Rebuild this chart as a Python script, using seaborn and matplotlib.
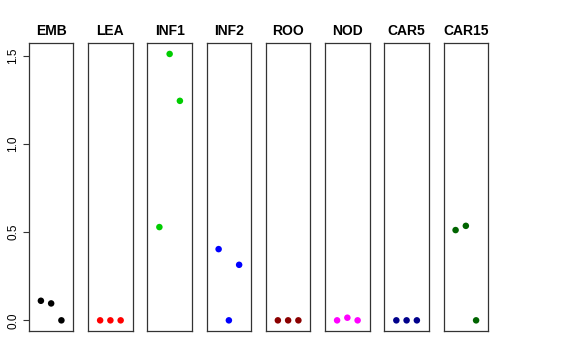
"""
Seaborn: small multiples, one strip of dots per tissue
"""
import numpy as np
import pandas as pd
import matplotlib
matplotlib.use("Agg")
import matplotlib.pyplot as plt
import seaborn as sns

# --------------
# values, three replicates per tissue
tissues = ["EMB", "LEA", "INF1", "INF2", "ROO", "NOD", "CAR5", "CAR15"]
reps = [1, 2, 3]
emb = [0.111, 0.096, 0.0]
lea = [0.0, 0.0, 0.0]
inf1 = [0.529, 1.511, 1.245]
inf2 = [0.404, 0.0, 0.315]
roo = [0.0, 0.0, 0.0]
nod = [0.0, 0.015, 0.0]
car5 = [0.0, 0.0, 0.0]
car15 = [0.512, 0.536, 0.0]
colours = ["#000000", "#FF0000", "#00CD00", "#0000FF",
           "#8B0000", "#FF00FF", "#00008B", "#006400"]

values = [emb, lea, inf1, inf2, roo, nod, car5, car15]
df = pd.DataFrame({
    "tissue": np.repeat(tissues, len(reps)),
    "rep": reps * len(tissues),
    "value": np.concatenate(values),
})

sns.set_style("white")
plt.rcParams["font.family"] = ["Liberation Sans", "DejaVu Sans"]
plt.rcParams["text.color"] = "black"
plt.rcParams["ytick.color"] = "black"

fig, axes = plt.subplots(1, len(tissues), figsize=(5.76, 3.6), dpi=100, sharey=True)
fig.subplots_adjust(left=29/576, right=488/576, bottom=29/360, top=316.7/360, wspace=0.337)

ymax = max(max(v) for v in values)
for ax, t, c in zip(axes, tissues, colours):
    sub = df[df["tissue"] == t]
    sns.scatterplot(data=sub, x="rep", y="value", color=c, s=22,
                    edgecolor="none", ax=ax, legend=False)
    ax.set_xlim(-0.16, 4.16)
    ax.set_ylim(-0.04 * ymax, 1.04 * ymax)
    ax.set_title(t, fontsize=10, fontweight="bold", pad=6, color="black")
    ax.set_xlabel("")
    ax.set_ylabel("")
    ax.set_xticks([])
    for sp in ax.spines.values():
        sp.set_visible(True)
        sp.set_color("#333333")
        sp.set_linewidth(0.9)
    ax.tick_params(axis="y", left=False, labelleft=False)

ax0 = axes[0]
ax0.set_yticks([0.0, 0.5, 1.0, 1.5])
ax0.set_yticklabels(["0.0", "0.5", "1.0", "1.5"], rotation=90, va="center", fontsize=8.5)
ax0.tick_params(axis="y", left=True, labelleft=True, length=4, width=0.8,
                color="#333333", labelcolor="black", pad=3)

fig.savefig("out.png", dpi=100)
